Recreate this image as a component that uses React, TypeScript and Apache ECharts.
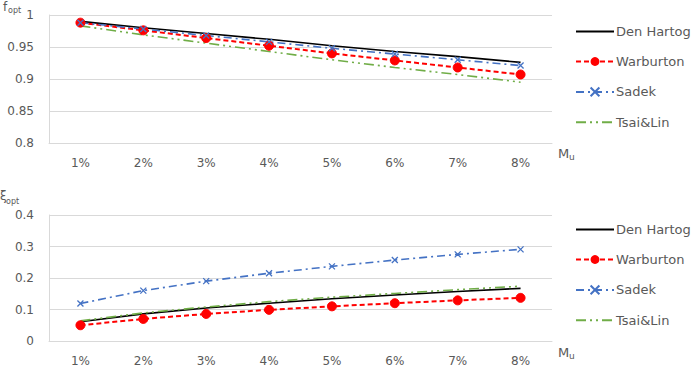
import React, { useEffect, useRef } from "react";
import * as echarts from "echarts";

// Mass ratio categories
const categories = ["1%", "2%", "3%", "4%", "5%", "6%", "7%", "8%"];

// Optimal frequency ratio f_opt
const fDenHartog = [0.99, 0.98, 0.971, 0.962, 0.952, 0.943, 0.935, 0.926];
const fWarburton = [0.988, 0.976, 0.964, 0.952, 0.94, 0.929, 0.918, 0.907];
const fSadek = [0.988, 0.978, 0.968, 0.958, 0.948, 0.939, 0.93, 0.921];
const fTsaiLin = [0.983, 0.969, 0.956, 0.943, 0.93, 0.918, 0.907, 0.895];

// Optimal damping ratio ξ_opt
const xiDenHartog = [0.061, 0.086, 0.105, 0.12, 0.134, 0.146, 0.157, 0.167];
const xiWarburton = [0.05, 0.07, 0.086, 0.099, 0.11, 0.12, 0.129, 0.137];
const xiSadek = [0.119, 0.16, 0.19, 0.215, 0.237, 0.257, 0.275, 0.291];
const xiTsaiLin = [0.064, 0.089, 0.108, 0.125, 0.139, 0.151, 0.163, 0.174];

const seriesNames = ["Den Hartog", "Warburton", "Sadek", "Tsai&Lin"];
// series drawn as plain lines (no marker in the legend either)
const plainLines = ["Den Hartog", "Tsai&Lin"];

const TEXT = "#595959";
const GRID_LINE = "#D9D9D9";
const FONT = "DejaVu Sans";

const crossSymbol = "path://M0,0L10,10M10,0L0,10";

function makeSeries(idx: number, values: number[][]) {
  const [dh, wb, sd, tl] = values;
  return [
    {
      name: seriesNames[0],
      type: "line",
      xAxisIndex: idx,
      yAxisIndex: idx,
      data: dh,
      symbol: "none",
      lineStyle: { color: "#000000", width: 1.6, type: "solid" },
      itemStyle: { color: "#000000" },
    },
    {
      name: seriesNames[1],
      type: "line",
      xAxisIndex: idx,
      yAxisIndex: idx,
      data: wb,
      symbol: "circle",
      symbolSize: 9,
      lineStyle: { color: "#FF0000", width: 2, type: [5, 3] },
      itemStyle: { color: "#FF0000", borderColor: "#FF0000" },
    },
    {
      name: seriesNames[2],
      type: "line",
      xAxisIndex: idx,
      yAxisIndex: idx,
      data: sd,
      symbol: crossSymbol,
      symbolSize: 6,
      lineStyle: { color: "#4472C4", width: 1.6, type: [8, 4, 2, 4] },
      itemStyle: { color: "none", borderColor: "#4472C4", borderWidth: 1.3 },
    },
    {
      name: seriesNames[3],
      type: "line",
      xAxisIndex: idx,
      yAxisIndex: idx,
      data: tl,
      symbol: "none",
      lineStyle: { color: "#70AD47", width: 1.6, type: [10, 4, 2, 4, 2, 4] },
      itemStyle: { color: "#70AD47" },
    },
  ];
}

function makeLegend(top: number) {
  return {
    data: seriesNames.map((name) =>
      plainLines.includes(name) ? { name, itemStyle: { opacity: 0 } } : { name }
    ),
    orient: "vertical",
    left: 570,
    top,
    itemWidth: 38,
    itemHeight: 11,
    itemGap: 17,
    textStyle: { color: TEXT, fontFamily: FONT, fontSize: 13, padding: [0, 0, 0, -3] },
  };
}

function makeXAxis(gridIndex: number) {
  return {
    type: "category",
    gridIndex,
    data: categories,
    boundaryGap: true,
    axisTick: { show: false },
    axisLine: { lineStyle: { color: GRID_LINE } },
    axisLabel: { color: TEXT, fontFamily: FONT, fontSize: 12, margin: 14 },
  };
}

function makeYAxis(gridIndex: number, min: number, max: number, interval: number) {
  return {
    type: "value",
    gridIndex,
    min,
    max,
    interval,
    axisLine: { show: true, lineStyle: { color: GRID_LINE } },
    axisTick: { show: false },
    splitLine: { lineStyle: { color: GRID_LINE } },
    axisLabel: { color: TEXT, fontFamily: FONT, fontSize: 12, margin: 15 },
  };
}

function label(text: string, x: number, y: number, size: number) {
  return {
    type: "text",
    x,
    y,
    style: { text, fill: TEXT, font: `${size}px "${FONT}"`, verticalAlign: "middle" },
  };
}

export default function App() {
  const ref = useRef<HTMLDivElement>(null);

  useEffect(() => {
    if (!ref.current) return;
    const chart = echarts.init(ref.current, null, { renderer: "svg" });
    chart.setOption({
      animation: false,
      backgroundColor: "#FFFFFF",
      grid: [
        { left: 49, right: 140, top: 15, height: 128 },
        { left: 49, right: 140, top: 215, height: 126 },
      ],
      xAxis: [makeXAxis(0), makeXAxis(1)],
      yAxis: [makeYAxis(0, 0.8, 1, 0.05), makeYAxis(1, 0, 0.4, 0.1)],
      legend: [makeLegend(20), makeLegend(218)],
      series: [
        ...makeSeries(0, [fDenHartog, fWarburton, fSadek, fTsaiLin]),
        ...makeSeries(1, [xiDenHartog, xiWarburton, xiSadek, xiTsaiLin]),
      ],
      graphic: [
        label("f", 3, 7, 12),
        label("opt", 8, 10, 8),
        label("ξ", 0, 196, 12),
        label("opt", 6, 201, 8),
        label("M", 558, 153, 13),
        label("u", 569, 157, 9),
        label("M", 558, 352, 13),
        label("u", 569, 356, 9),
      ],
    });
    return () => chart.dispose();
  }, []);

  return (
    <div
      ref={ref}
      style={{ position: "absolute", left: 0, top: 0, width: 692, height: 370, background: "#fff" }}
    />
  );
}
